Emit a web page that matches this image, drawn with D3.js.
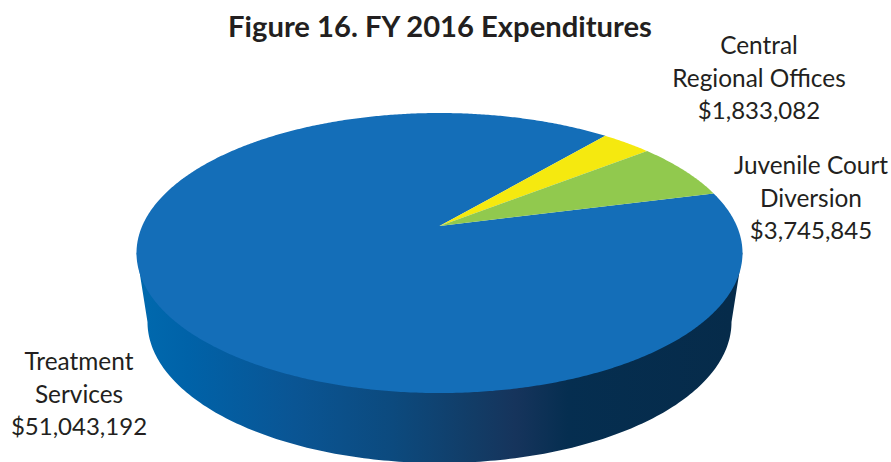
<!DOCTYPE html>
<html>
<head>
<meta charset="utf-8">
<script src="https://cdn.jsdelivr.net/npm/d3@7"></script>
<style>
  html, body { margin: 0; padding: 0; background: #fff; }
  text { font-family: Lato, "Open Sans", sans-serif; fill: #231f20; }
</style>
</head>
<body>
<svg id="chart" width="891" height="462"></svg>
<script>
var categories = ["Treatment Services", "Central Regional Offices", "Juvenile Court Diversion"];
var values = [51043192, 1833082, 3745845];
var colors = ["#146eb8", "#f5e90f", "#91c94e"];
var labelLines = [["Treatment", "Services"], ["Central", "Regional Offices"], ["Juvenile Court", "Diversion"]];
var labelPos = [[79, 370], [759, 54], [811, 174]];
var title = "Figure 16. FY 2016 Expenditures";

// wall shading, left to right
var wallOffsets = [0, 0.07, 0.25, 0.42, 0.56, 0.63, 0.72, 1];
var wallColors = ["#0068ad", "#0062a8", "#0a5594", "#0c4a7e", "#123c66", "#16345c", "#052e50", "#062b4a"];

var svg = d3.select("#chart");

// the disc is tilted with some perspective, so the apex sits above the middle of the ellipse
var cx = 439.5, apexY = 226, a = 297.3, b = 134.8, k = 0.193;
function project(angle, r) {
  var u = r * Math.sin(angle), v = r * Math.cos(angle), w = 1 + k * v;
  return [cx + a * u / w, apexY - b * v / w];
}

// lower rim of the wall
var lowCy = 322, lowRx = 292, lowRy = 141;

var startAngle = 75.3 * Math.PI / 180;
var pie = d3.pie().sort(null).startAngle(startAngle).endAngle(startAngle + 2 * Math.PI);
var arcs = pie(values);
var line = d3.line();

var defs = svg.append("defs");
var grad = defs.append("linearGradient").attr("id", "wall")
  .attr("gradientUnits", "userSpaceOnUse")
  .attr("x1", cx - lowRx).attr("x2", cx + lowRx).attr("y1", 0).attr("y2", 0);
wallOffsets.forEach(function(o, i) {
  grad.append("stop").attr("offset", o).attr("stop-color", wallColors[i]);
});

// wall: from the widest point of the top rim, along the lower rim, back up
var lowRim = d3.range(0, 181).map(function(i) {
  var t = Math.PI * i / 180;
  return [cx - lowRx * Math.cos(t), lowCy + lowRy * Math.sin(t)];
});
var widest = d3.range(0, 721).map(function(i) { return project(i * Math.PI / 360, 1); });
var leftPt = d3.least(widest, function(p) { return p[0]; });
var rightPt = d3.greatest(widest, function(p) { return p[0]; });

svg.append("path")
  .attr("d", line([leftPt].concat(lowRim, [rightPt])) + "Z")
  .attr("fill", "url(#wall)");

// top face
svg.selectAll("path.slice")
  .data(arcs)
  .enter().append("path")
  .attr("class", "slice")
  .attr("fill", function(d, i) { return colors[i]; })
  .attr("d", function(d) {
    var n = Math.max(2, Math.ceil((d.endAngle - d.startAngle) * 120));
    var pts = [project(0, 0)];
    d3.range(n + 1).forEach(function(j) {
      pts.push(project(d.startAngle + (d.endAngle - d.startAngle) * j / n, 1));
    });
    return line(pts) + "Z";
  });

svg.append("text")
  .attr("x", 440).attr("y", 37)
  .attr("text-anchor", "middle")
  .style("font-size", "29.2px").style("font-weight", 700)
  .text(title);

var fmt = d3.format("$,");
categories.forEach(function(c, i) {
  var t = svg.append("text")
    .attr("text-anchor", "middle")
    .style("font-size", "24.4px");
  labelLines[i].forEach(function(s, j) {
    t.append("tspan")
      .attr("x", labelPos[i][0])
      .attr("y", labelPos[i][1] + j * 32.5)
      .text(s);
  });
  t.append("tspan")
    .attr("x", labelPos[i][0])
    .attr("y", labelPos[i][1] + labelLines[i].length * 32.5)
    .style("font-size", "24px")
    .text(fmt(values[i]));
});
</script>
</body>
</html>
